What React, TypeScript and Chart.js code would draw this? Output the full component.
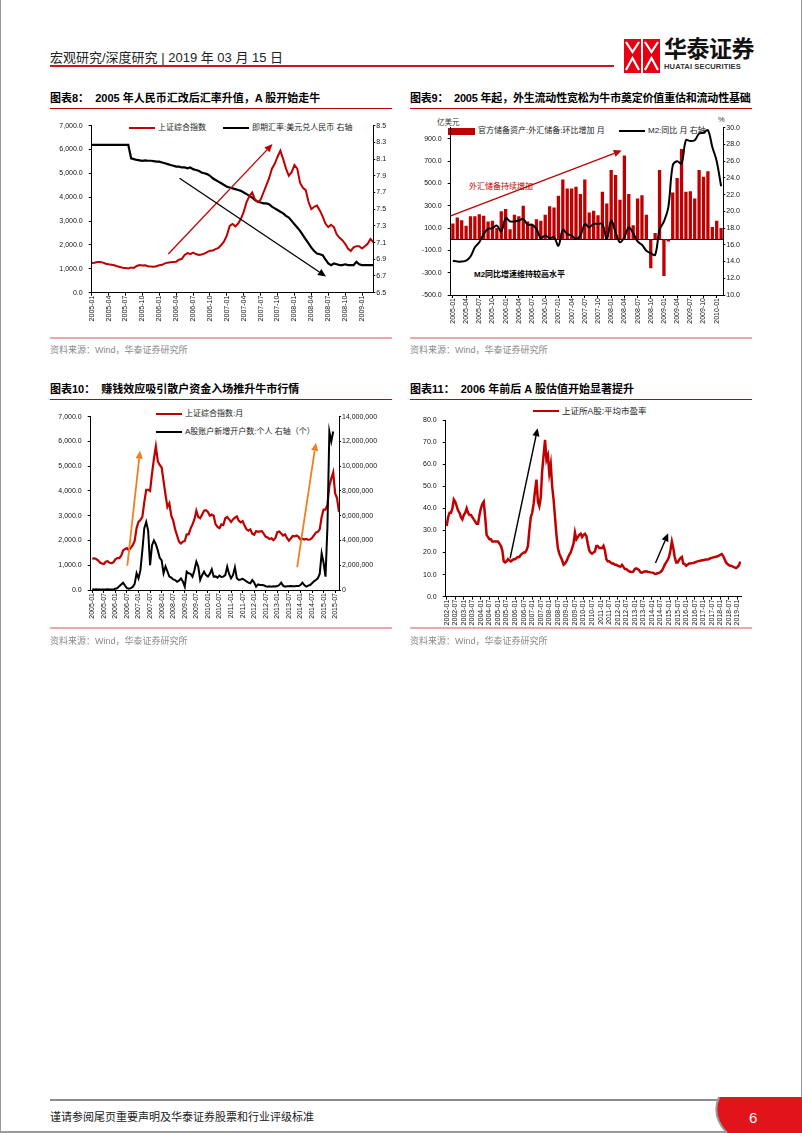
import React, { useEffect, useRef } from 'react';
import { Chart, registerables } from 'chart.js';

Chart.register(...registerables);

const NUM = '"Liberation Sans", Arial, sans-serif';
const MIX = '"Liberation Sans", "Noto Sans CJK SC", sans-serif';
const RED = '#C00000';
const ORANGE = '#EE8022';

// ---------------- Chart 8 data (semi-monthly from 2005-01) ----------------
const c8Ticks = ['2005-01', '2005-04', '2005-07', '2005-10', '2006-01', '2006-04', '2006-07', '2006-10', '2007-01', '2007-04', '2007-07', '2007-10', '2008-01', '2008-04', '2008-07', '2008-10', '2009-01'];
const c8Sse = [
  1243, 1260, 1285, 1290, 1260, 1215, 1190, 1170, 1150, 1110, 1080, 1050, 1040, 1020, 1060, 1040, 1120, 1160, 1140, 1150,
  1110, 1100, 1090, 1110, 1150, 1170, 1230, 1260, 1280, 1290, 1300, 1380, 1420, 1580, 1660, 1620, 1680, 1620, 1580, 1600,
  1640, 1700, 1760, 1770, 1830, 1880, 2000, 2150, 2400, 2800, 2880, 2780, 2900, 3100, 3400, 3800, 4050, 4200, 3900, 3800,
  3900, 4200, 4500, 4800, 5200, 5400, 5700, 5950, 5600, 5200, 4900, 5050, 5350, 5200, 4600, 4400, 4300, 3800, 3500, 3600,
  3650, 3450, 3200, 2900, 2750, 2850, 2750, 2450, 2300, 2200, 2050, 1850, 1750, 1900, 1950, 1950, 1850, 1950, 2050, 2250,
  2120,
];
const c8Fx = [
  8.27, 8.27, 8.27, 8.27, 8.27, 8.27, 8.27, 8.27, 8.27, 8.27, 8.27, 8.27, 8.27, 8.27,
  8.11, 8.10, 8.09, 8.085, 8.08, 8.085, 8.08, 8.08, 8.075, 8.07, 8.07, 8.06, 8.05, 8.04, 8.03, 8.02, 8.01, 8.01, 8.0, 8.0,
  7.99, 8.0, 7.98, 7.97, 7.96, 7.94, 7.93, 7.92, 7.90, 7.87, 7.85, 7.83, 7.81, 7.79, 7.77, 7.76, 7.75, 7.74, 7.73, 7.72,
  7.70, 7.68, 7.66, 7.64, 7.61, 7.59, 7.58, 7.57, 7.57, 7.56, 7.53, 7.51, 7.49, 7.47, 7.45, 7.42, 7.40, 7.36, 7.32, 7.28,
  7.24, 7.19, 7.14, 7.09, 7.04, 7.00, 6.97, 6.96, 6.95, 6.90, 6.85, 6.83, 6.85, 6.84, 6.83, 6.83, 6.84, 6.83, 6.83, 6.83,
  6.87, 6.84, 6.83, 6.83, 6.83, 6.83, 6.83,
];
const c8LeftTicks = [0, 1000, 2000, 3000, 4000, 5000, 6000, 7000];
const c8RightTicks = [6.5, 6.7, 6.9, 7.1, 7.3, 7.5, 7.7, 7.9, 8.1, 8.3, 8.5];
const c8Arrows = [
  { from: [13.6, 1620], to: [32.1, 6230], color: RED, width: 1.3 },
  { from: [15.6, 4800], to: [41.6, 680], color: '#000', width: 1.3 },
];

// ---------------- Chart 9 data (monthly 2005-01 .. 2010-02) ----------------
const c9Start = '2005-01';
const c9Count = 62;
const c9Reserve = [
  140, 195, 170, 120, 205, 205, 225, 210, 160, 165,
  100, 250, 270, 90, 220, 205, 300, 160, 130, 180,
  165, 220, 295, 285, 390, 535, 455, 455, 470, 405,
  535, 240, 255, 215, 425, 320, 620, 575, 355, 750,
  405, 125, 365, 395, 220, -260, 55, 620, -330, -20,
  420, 550, 810, 425, 430, 365, 620, 560, 610, 110,
  165, 100,
];
const c9M2 = [
  14.1, 14.0, 14.0, 14.1, 14.6, 15.7, 16.3, 17.3, 17.9, 18.0,
  18.3, 17.6, 19.2, 18.8, 18.8, 18.9, 19.1, 18.4, 18.4, 17.9,
  16.8, 17.1, 16.8, 16.9, 15.9, 17.8, 17.3, 17.1, 16.7, 17.1,
  18.5, 18.1, 18.5, 18.5, 18.5, 16.7, 18.9, 17.5, 16.3, 16.9,
  18.1, 17.4, 16.4, 16.0, 15.3, 15.0, 14.8, 17.8, 18.8, 20.5,
  25.5, 26.0, 25.7, 28.5, 28.4, 28.5, 29.3, 29.4, 29.7, 27.7,
  26.0, 23.0,
];
const c9LeftTicks = [-500, -300, -100, 100, 300, 500, 700, 900];
const c9RightTicks = [10, 12, 14, 16, 18, 20, 22, 24, 26, 28, 30];
const c9Arrows = [{ from: [-0.5, 210], to: [38.4, 795], color: RED, width: 1.3 }];

// ---------------- Chart 10 data (monthly from 2005-01) ----------------
const c10Ticks = ['2005-01', '2005-07', '2006-01', '2006-07', '2007-01', '2007-07', '2008-01', '2008-07', '2009-01', '2009-07', '2010-01', '2010-07', '2011-01', '2011-07', '2012-01', '2012-07', '2013-01', '2013-07', '2014-01', '2014-07', '2015-01', '2015-07'];
const c10Sse = [
  1270, 1280, 1250, 1200, 1110, 1070, 1050, 1140, 1160, 1100, 1090, 1120,
  1240, 1290, 1290, 1380, 1600, 1660, 1690, 1600, 1700, 1810, 1980, 2500,
  2750, 2830, 2950, 3550, 4050, 4050, 4000, 4700, 5300, 5800, 5200, 5050,
  4950, 4400, 3850, 3350, 3500, 3000, 2800, 2450, 2200, 1950, 1880, 1950,
  1980, 2250, 2250, 2480, 2650, 2850, 3200, 2950, 2900, 3050, 3200, 3220,
  3150, 3000, 3050, 3000, 2650, 2550, 2500, 2650, 2620, 2900, 2950, 2850,
  2750, 2850, 2920, 2970, 2800, 2730, 2780, 2600, 2450, 2400, 2450, 2270,
  2230, 2380, 2350, 2370, 2380, 2270, 2150, 2120, 2060, 2090, 2010, 2100,
  2340, 2360, 2280, 2200, 2250, 2100, 1990, 2080, 2180, 2170, 2200, 2150,
  2040, 2070, 2040, 2060, 2030, 2040, 2100, 2210, 2320, 2350, 2450, 2950,
  3250, 3250, 3450, 4200, 4500, 4750, 3900, 3700, 3150,
];
const c10Accounts = [
  60000, 50000, 60000, 50000, 40000, 40000, 40000, 50000, 60000, 50000, 40000, 50000,
  100000, 150000, 300000, 450000, 590000, 350000, 150000, 100000, 150000, 250000, 500000, 1350000,
  940000, 1600000, 3200000, 5000000, 5500000, 4800000, 2000000, 3600000, 4000000, 3700000, 3200000, 2600000,
  2400000, 1350000, 1900000, 1500000, 1080000, 1000000, 850000, 800000, 670000, 750000, 940000, 700000,
  270000, 1480000, 1350000, 1300000, 1080000, 1600000, 2290000, 1880000, 810000, 1200000, 1480000, 1200000,
  1080000, 1300000, 1670000, 1080000, 1100000, 1000000, 1160000, 1050000, 1080000, 1200000, 1880000, 1300000,
  940000, 1200000, 1830000, 950000, 810000, 850000, 900000, 810000, 700000, 600000, 540000, 810000,
  600000, 270000, 450000, 400000, 400000, 380000, 300000, 270000, 300000, 270000, 300000, 280000,
  320000, 400000, 590000, 350000, 270000, 300000, 300000, 320000, 300000, 300000, 320000, 320000,
  400000, 590000, 400000, 270000, 350000, 400000, 550000, 700000, 810000, 940000, 1300000, 2960000,
  2200000, 1080000, 5100000, 12800000, 12000000, 12800000,
];
const c10LeftTicks = [0, 1000, 2000, 3000, 4000, 5000, 6000, 7000];
const c10RightTicks = [0, 2000000, 4000000, 6000000, 8000000, 10000000, 12000000, 14000000];
const c10Arrows = [
  { from: [18.2, 980], to: [24.8, 5630], color: ORANGE, width: 1.8 },
  { from: [106.3, 920], to: [116, 5950], color: ORANGE, width: 1.8 },
];

// ---------------- Chart 11 data (monthly from 2002-01) ----------------
const c11Ticks = ['2002-01', '2002-07', '2003-01', '2003-07', '2004-01', '2004-07', '2005-01', '2005-07', '2006-01', '2006-07', '2007-01', '2007-07', '2008-01', '2008-07', '2009-01', '2009-07', '2010-01', '2010-07', '2011-01', '2011-07', '2012-01', '2012-07', '2013-01', '2013-07', '2014-01', '2014-07', '2015-01', '2015-07', '2016-01', '2016-07', '2017-01', '2017-07', '2018-01', '2018-07', '2019-01'];
const c11Pe = [
  32, 36, 38, 38, 40, 44, 43, 41, 39, 38, 36, 35,
  37, 38, 40, 38, 37, 37, 36, 35, 34, 33, 33, 37,
  40, 42, 43, 36, 28, 27, 26, 26, 25, 25, 25, 25,
  25, 24, 23, 21, 16, 15.5, 16, 17, 16.5, 16, 16.5, 17,
  17, 17.5, 18, 18, 19, 19.5, 20, 20, 21, 23, 30, 36,
  38, 42, 48, 53, 43, 41, 45, 57, 64, 71, 62, 64,
  56, 60, 50, 44, 36, 28, 22, 19.5, 18, 16.5, 14.5, 15,
  16, 17.5, 19, 20, 22, 24, 29, 26, 27, 28, 28.5, 27,
  28, 28.5, 27.5, 24, 21, 20, 19.5, 20, 20.5, 23, 23, 22,
  22, 22, 23, 21, 17, 16, 16, 15.5, 15, 15, 14.5, 14.5,
  14, 13.8, 13.6, 14.4, 13.5, 12.5, 12.5, 12, 11.5, 11.3, 11.2, 11.4,
  12.5, 12.8, 12.5, 12, 11, 10.9, 11.2, 11.4, 11.5, 11.3, 11.2, 11,
  10.9, 10.8, 10.3, 10.4, 10.6, 10.8, 11.2, 11.8, 13, 14.5, 15.5, 16.6,
  18, 21, 25, 22, 18, 15.5, 15.5, 16.6, 17.5, 18, 15, 14.8,
  14, 14.5, 15, 15, 15.2, 15.3, 15.5, 15.8, 16, 16.2, 16.3, 16.5,
  16.5, 16.7, 16.8, 16.8, 17, 17.4, 17.6, 17.8, 18, 18.1, 18.3, 18.6,
  19, 19.3, 18.4, 17, 15.5, 14.8, 14.3, 14, 13.9, 13.5, 13.3, 13,
  13.4, 14.2, 15.9,
];
const c11LeftTicks = [0, 10, 20, 30, 40, 50, 60, 70, 80];
const c11Arrows = [
  { from: [44.5, 17.4], to: [63.8, 76.3], color: '#000', width: 1.4 },
  { from: [146.5, 15.3], to: [155.4, 28.7], color: '#000', width: 1.4 },
];

// ---------------- helpers ----------------
function monthOf(label: string, baseYear: number) {
  const [y, m] = label.split('-').map(Number);
  return (y - baseYear) * 12 + (m - 1);
}
function monthLabels(start: string, count: number) {
  const [y0, m0] = start.split('-').map(Number);
  const out: string[] = [];
  for (let i = 0; i < count; i++) {
    const t = (m0 - 1) + i;
    const y = y0 + Math.floor(t / 12);
    const m = (t % 12) + 1;
    out.push(`${y}-${m < 10 ? '0' + m : m}`);
  }
  return out;
}
function pts(values: number[], step: number) {
  return values.map((v, i) => ({ x: i * step, y: v }));
}
const f1 = (v: number) => v.toLocaleString('en-US', { minimumFractionDigits: 1, maximumFractionDigits: 1 });
const fFix1 = (v: number) => v.toFixed(1);
const fInt = (v: number) => v.toLocaleString('en-US');

function arrowPlugin(items: any[], axis = 'y') {
  return {
    id: 'arrows',
    afterDatasetsDraw(chart: any) {
      const ctx = chart.ctx;
      const xs = chart.scales.x;
      const ys = chart.scales[axis];
      for (const a of items) {
        const x1 = xs.getPixelForValue(a.from[0]);
        const y1 = ys.getPixelForValue(a.from[1]);
        const x2 = xs.getPixelForValue(a.to[0]);
        const y2 = ys.getPixelForValue(a.to[1]);
        const ang = Math.atan2(y2 - y1, x2 - x1);
        const L = 8, W = 3.6;
        const bx = x2 - L * Math.cos(ang);
        const by = y2 - L * Math.sin(ang);
        ctx.save();
        ctx.strokeStyle = a.color;
        ctx.fillStyle = a.color;
        ctx.lineWidth = a.width;
        ctx.beginPath();
        ctx.moveTo(x1, y1);
        ctx.lineTo(bx, by);
        ctx.stroke();
        ctx.beginPath();
        ctx.moveTo(x2, y2);
        ctx.lineTo(bx + W * Math.sin(ang), by - W * Math.cos(ang));
        ctx.lineTo(bx - W * Math.sin(ang), by + W * Math.cos(ang));
        ctx.closePath();
        ctx.fill();
        ctx.restore();
      }
    },
  };
}

const zeroLinePlugin = {
  id: 'zeroLine',
  beforeDatasetsDraw(chart: any) {
    const { ctx, chartArea } = chart;
    const y = Math.round(chart.scales.y.getPixelForValue(0)) + 0.5;
    ctx.save();
    ctx.strokeStyle = '#000';
    ctx.lineWidth = 1;
    ctx.beginPath();
    ctx.moveTo(chartArea.left, y);
    ctx.lineTo(chartArea.right, y);
    ctx.stroke();
    ctx.restore();
  },
};

function yScale(position: string, min: number, max: number, vals: number[], fmt: (v: number) => string, width: number) {
  const left = position === 'left';
  return {
    type: 'linear', position, min, max, bounds: 'data',
    afterFit: (s: any) => { s.width = width; },
    afterBuildTicks: (s: any) => { s.ticks = vals.map((v) => ({ value: v })); },
    ticks: { autoSkip: false, callback: (v: number) => fmt(v), font: { family: NUM, size: 7 }, color: '#111', padding: left ? 6 : 1 },
    grid: { display: true, drawOnChartArea: false, drawTicks: true, tickLength: left ? 3 : 2, color: '#000', lineWidth: 1 },
    border: { display: true, color: '#000', width: 1 },
  };
}

function xLinear(min: number, max: number, labels: string[], baseYear: number, height: number) {
  const vals = labels.map((l) => monthOf(l, baseYear));
  return {
    type: 'linear', position: 'bottom', min, max, bounds: 'data',
    afterFit: (s: any) => { s.height = height; },
    afterBuildTicks: (s: any) => { s.ticks = vals.map((v) => ({ value: v })); },
    ticks: {
      autoSkip: false, minRotation: 90, maxRotation: 90, padding: 0,
      font: { family: NUM, size: 7 }, color: '#111',
      callback: (v: number) => { const i = vals.indexOf(v); return i >= 0 ? labels[i] : ''; },
    },
    grid: { display: true, drawOnChartArea: false, tickLength: 3, color: '#000', lineWidth: 1 },
    border: { display: true, color: '#000', width: 1 },
  };
}

function baseOptions(padding: any) {
  return {
    responsive: false,
    animation: false,
    devicePixelRatio: 1,
    events: [],
    layout: { padding },
    plugins: { legend: { display: false }, tooltip: { enabled: false }, title: { display: false } },
  };
}

const lineDs = (data: any, color: string, width: number, axis = 'y', tension = 0) => ({
  type: 'line', data, borderColor: color, backgroundColor: color, borderWidth: width,
  pointRadius: 0, pointHoverRadius: 0, tension, yAxisID: axis, fill: false,
});

// ---------------- chart configs ----------------
function config8(): any {
  return {
    type: 'line',
    data: {
      datasets: [
        lineDs(pts(c8Sse, 0.5), RED, 2, 'y'),
        lineDs(pts(c8Fx, 0.5), '#000', 2.2, 'y1'),
      ],
    },
    options: {
      ...baseOptions({ top: 13.7, left: 0, right: 0, bottom: 0 }),
      scales: {
        x: xLinear(0, 50, c8Ticks, 2005, 44.3),
        y: yScale('left', 0, 7000, c8LeftTicks, f1, 51.7),
        y1: yScale('right', 6.5, 8.5, c8RightTicks, fFix1, 26.7),
      },
    },
    plugins: [arrowPlugin(c8Arrows, 'y')],
  };
}

function config9(): any {
  const labels = monthLabels(c9Start, c9Count);
  return {
    type: 'bar',
    data: {
      labels,
      datasets: [
        lineDs(c9M2, '#000', 2, 'y1', 0.35),
        { type: 'bar', data: c9Reserve, backgroundColor: RED, borderWidth: 0, barPercentage: 0.75, categoryPercentage: 1, yAxisID: 'y' },
      ],
    },
    options: {
      ...baseOptions({ top: 15.7, left: 0, right: 0, bottom: 0 }),
      scales: {
        x: {
          type: 'category', offset: true,
          afterFit: (s: any) => { s.height = 42; },
          afterBuildTicks: (s: any) => { s.ticks = s.ticks.filter((_t: any, i: number) => i % 3 === 0); },
          ticks: { autoSkip: false, minRotation: 90, maxRotation: 90, padding: 0, font: { family: NUM, size: 7 }, color: '#111' },
          grid: { display: true, offset: false, drawOnChartArea: false, tickLength: 3, color: '#000' },
          border: { display: true, color: '#000', width: 1 },
        },
        y: yScale('left', -500, 1000, c9LeftTicks, f1, 50.7),
        y1: yScale('right', 10, 30, c9RightTicks, fFix1, 31.7),
      },
    },
    plugins: [zeroLinePlugin, arrowPlugin(c9Arrows, 'y')],
  };
}

function config10(): any {
  return {
    type: 'line',
    data: {
      datasets: [
        lineDs(pts(c10Accounts, 1), '#000', 2, 'y1'),
        lineDs(pts(c10Sse, 1), RED, 2.2, 'y'),
      ],
    },
    options: {
      ...baseOptions({ top: 11.7, left: 0, right: 0, bottom: 0 }),
      scales: {
        x: xLinear(-0.8, 128, c10Ticks, 2005, 40),
        y: yScale('left', 0, 7000, c10LeftTicks, f1, 50.7),
        y1: yScale('right', 0, 14000000, c10RightTicks, fInt, 61),
      },
    },
    plugins: [arrowPlugin(c10Arrows, 'y')],
  };
}

function config11(): any {
  return {
    type: 'line',
    data: { datasets: [lineDs(pts(c11Pe, 1), RED, 2.5, 'y')] },
    options: {
      ...baseOptions({ top: 15, left: 0, right: 9, bottom: 0 }),
      scales: {
        x: xLinear(-0.7, 206.5, c11Ticks, 2002, 30.3),
        y: yScale('left', 0, 80, c11LeftTicks, f1, 45.7),
      },
    },
    plugins: [arrowPlugin(c11Arrows, 'y')],
  };
}

// ---------------- components ----------------
function ChartCanvas({ left, top, width, height, build }: any) {
  const ref = useRef<HTMLCanvasElement>(null);
  useEffect(() => {
    const chart = new Chart(ref.current as HTMLCanvasElement, build());
    return () => chart.destroy();
  }, []);
  return <canvas ref={ref} width={width} height={height} style={{ position: 'absolute', left, top, width, height }} />;
}

function Txt({ x, y, size, color = '#000', weight = 400, family = MIX, children, spacing }: any) {
  return (
    <div style={{ position: 'absolute', left: x, top: y, transform: 'translateY(-50%)', fontSize: size, lineHeight: 1, color, fontWeight: weight, fontFamily: family, whiteSpace: 'pre', letterSpacing: spacing }}>
      {children}
    </div>
  );
}

function Rule({ x, y, w, h = 1, color }: any) {
  return <div style={{ position: 'absolute', left: x, top: y, width: w, height: h, background: color }} />;
}

function LegLine({ x, y, w = 26, color }: any) {
  return <div style={{ position: 'absolute', left: x, top: y - 1, width: w, height: 2.2, background: color }} />;
}

export default function App() {
  const src = '资料来源：Wind，华泰证券研究所';
  return (
    <div style={{ position: 'absolute', left: 0, top: 0, width: 802, height: 1133, background: '#fff', overflow: 'hidden', fontFamily: MIX }}>
      <div style={{ position: 'absolute', left: 0, top: 0, width: 802, height: 1133, boxSizing: 'border-box', borderLeft: '1px solid #9a9a9a', borderRight: '1px solid #9a9a9a', borderBottom: '2px solid #9a9a9a' }} />

      {/* header */}
      <Txt x={50} y={57} size={13} color="#222">宏观研究/深度研究 | 2019 年 03 月 15 日</Txt>
      <Rule x={50} y={65} w={564} h={2} color="#C8161D" />
      <svg style={{ position: 'absolute', left: 624, top: 39 }} width={38} height={34} viewBox="0 0 38 34">
        <rect x={0} y={0} width={17} height={34} fill="#E60012" />
        <rect x={19} y={0} width={17} height={34} fill="#E60012" />
        <polyline points="2,3 8.5,13 15,3" fill="none" stroke="#fff" strokeWidth={2.2} />
        <polyline points="21,3 27.5,13 34,3" fill="none" stroke="#fff" strokeWidth={2.2} />
        <polyline points="2,31 8.5,19 15,31" fill="none" stroke="#fff" strokeWidth={2.2} />
        <polyline points="21,31 27.5,19 34,31" fill="none" stroke="#fff" strokeWidth={2.2} />
      </svg>
      <Txt x={664} y={49} size={23} weight={700} color="#111" spacing={-0.5}>华泰证券</Txt>
      <Txt x={664} y={67} size={7.6} weight={700} color="#333" spacing={0.1}>HUATAI SECURITIES</Txt>

      {/* titles row 1 */}
      <Txt x={50} y={98} size={11} weight={700}>图表8：  2005 年人民币汇改后汇率升值，A 股开始走牛</Txt>
      <Rule x={50} y={108} w={342} h={1} color="#C00000" />
      <Txt x={410} y={98} size={11} weight={700} spacing={-0.2}>图表9：  2005 年起，外生流动性宽松为牛市奠定价值重估和流动性基础</Txt>
      <Rule x={410} y={108} w={342} h={1} color="#C00000" />

      {/* chart 8 legend */}
      <LegLine x={129} y={128} color={RED} />
      <Txt x={158} y={128} size={8} color="#222">上证综合指数</Txt>
      <LegLine x={223} y={128} color="#000" />
      <Txt x={252} y={128} size={8} color="#222">即期汇率:美元兑人民币 右轴</Txt>

      {/* chart 9 legend & notes */}
      <Txt x={437} y={123} size={7.5} color="#333">亿美元</Txt>
      <Txt x={718} y={120} size={7.5} color="#333">%</Txt>
      <div style={{ position: 'absolute', left: 448, top: 128, width: 27, height: 7, background: RED }} />
      <Txt x={478} y={131} size={8} color="#222">官方储备资产:外汇储备:环比增加 月</Txt>
      <LegLine x={619} y={131} color="#000" />
      <Txt x={648} y={131} size={8} color="#222">M2:同比 月 右轴</Txt>
      <Txt x={469} y={187} size={8} color={RED}>外汇储备持续增加</Txt>
      <Txt x={474} y={275} size={8} weight={700} color="#000">M2同比增速维持较高水平</Txt>

      <ChartCanvas left={40} top={112} width={360} height={225} build={config8} />
      <ChartCanvas left={400} top={112} width={355} height={225} build={config9} />

      {/* sources row 1 */}
      <Rule x={50} y={337} w={342} h={1.5} color="#EBA9A9" />
      <Txt x={50} y={350} size={9} color="#8a8a8a">{src}</Txt>
      <Rule x={410} y={337} w={342} h={1.5} color="#EBA9A9" />
      <Txt x={410} y={350} size={9} color="#8a8a8a">{src}</Txt>

      {/* titles row 2 */}
      <Txt x={50} y={389} size={11} weight={700}>图表10：  赚钱效应吸引散户资金入场推升牛市行情</Txt>
      <Rule x={50} y={399} w={342} h={1} color="#C00000" />
      <Txt x={410} y={389} size={11} weight={700}>图表11：  2006 年前后 A 股估值开始显著提升</Txt>
      <Rule x={410} y={399} w={342} h={1} color="#C00000" />

      {/* chart 10 legend */}
      <LegLine x={156} y={414} color={RED} />
      <Txt x={185} y={414} size={8} color="#222">上证综合指数:月</Txt>
      <LegLine x={156} y={432} color="#000" />
      <Txt x={185} y={432} size={8} color="#222">A股账户新增开户数:个人 右轴（个）</Txt>

      {/* chart 11 legend */}
      <LegLine x={533} y={411} color={RED} />
      <Txt x={562} y={411} size={8.5} color="#222">上证所A股:平均市盈率</Txt>

      <ChartCanvas left={40} top={405} width={360} height={225} build={config10} />
      <ChartCanvas left={400} top={405} width={350} height={222} build={config11} />

      {/* sources row 2 */}
      <Rule x={50} y={627} w={342} h={1.5} color="#EBA9A9" />
      <Txt x={50} y={641} size={9} color="#8a8a8a">{src}</Txt>
      <Rule x={410} y={627} w={342} h={1.5} color="#EBA9A9" />
      <Txt x={410} y={641} size={9} color="#8a8a8a">{src}</Txt>

      {/* footer */}
      <Rule x={50} y={1099} w={670} h={2} color="#8c8c8c" />
      <svg style={{ position: 'absolute', left: 700, top: 1095 }} width={102} height={38} viewBox="700 1095 102 38">
        <path d="M719,1097 L802,1097 L802,1133 L727,1133 Q711,1116 719,1097 Z" fill="#E2141B" />
        <path d="M719,1097 Q711,1116 727,1133" fill="none" stroke="#9a9a9a" strokeWidth={2} />
      </svg>
      <Txt x={749} y={1117} size={15} color="#fff" family={NUM}>6</Txt>
      <Txt x={50} y={1117} size={11} color="#222">谨请参阅尾页重要声明及华泰证券股票和行业评级标准</Txt>
    </div>
  );
}
